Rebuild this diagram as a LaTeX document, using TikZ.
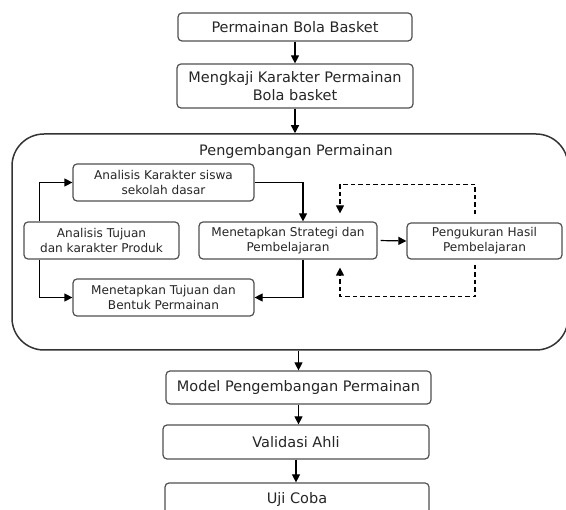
\documentclass[tikz,border=0pt]{standalone}
\usepackage{fontspec}
\setmainfont{DejaVu Sans}
\usetikzlibrary{arrows.meta}
\definecolor{edge}{HTML}{505050}
\definecolor{txt}{HTML}{262626}
\tikzset{
  box/.style={draw=edge, line width=1.2pt, rounded corners=4pt, fill=white, text=txt, align=center, inner sep=0pt},
  outerbox/.style={box, font=\fontsize{14.5}{18}\selectfont},
  innerbox/.style={box, font=\fontsize{12.1}{15}\selectfont},
  lowbox/.style={box, font=\fontsize{14.5}{18}\selectfont},
  arr/.style={draw=black, line width=1.2pt, -{Triangle[length=8pt,width=8pt]}},
  darr/.style={arr, dash pattern=on 4.5pt off 3pt},
}
\begin{document}
\begin{tikzpicture}[x=1pt,y=-1pt]
\useasboundingbox (0,0) rectangle (566,510);
\node[draw=black!80, line width=1.5pt, rounded corners=32pt, minimum width=556pt, minimum height=216pt] (big) at (290,242) {};
\node[text=txt, font=\fontsize{14.4}{16}\selectfont] (title) at (296,152) {Pengembangan Permainan};

\node[outerbox, minimum width=234pt, minimum height=28pt] (n1) at (295,27) {Permainan Bola Basket};
\node[outerbox, minimum width=236pt, minimum height=44pt] (n2) at (295,86) {Mengkaji Karakter Permainan\\Bola basket};

\node[innerbox, minimum width=181pt, minimum height=37pt] (A) at (163.5,182.5) {Analisis Karakter siswa\\sekolah dasar};
\node[innerbox, minimum width=155pt, minimum height=37pt] (T) at (101.5,240.5) {Analisis Tujuan\\dan karakter Produk};
\node[innerbox, minimum width=181pt, minimum height=37pt] (M) at (163.5,297.5) {Menetapkan Tujuan dan\\Bentuk Permainan};
\node[innerbox, minimum width=178pt, minimum height=37pt] (S) at (288,240.5) {Menetapkan Strategi dan\\Pembelajaran};
\node[innerbox, minimum width=155pt, minimum height=36pt] (P) at (484.5,241) {Pengukuran Hasil\\Pembelajaran};

\node[lowbox, minimum width=265pt, minimum height=33pt] (Mo) at (298.5,387.5) {Model Pengembangan Permainan};
\node[lowbox, minimum width=266pt, minimum height=34pt] (V) at (296,442) {Validasi Ahli};
\node[lowbox, minimum width=264pt, minimum height=34pt] (U) at (297,500) {Uji Coba};

\draw[arr] (n1.south) -- (n1.south |- n2.north);
\draw[arr] (n2.south) -- (n2.south |- big.north);
\draw[arr] (Mo.north |- big.south) -- (Mo.north);
\draw[arr] (Mo.south) -- (Mo.south |- V.north);
\draw[arr] (V.south) -- (V.south |- U.north);

\draw[arr] ([xshift=16pt]T.north west) |- (A.west);
\draw[arr] ([xshift=16pt]T.south west) |- (M.west);
\draw[arr] (A.east) -| ([xshift=15pt]S.north);
\draw[arr] ([xshift=15pt]S.south) |- (M.east);
\draw[arr, shorten <=3pt] (S.east) -- (P.west);
\draw[darr, shorten <=8pt, shorten >=8pt] ([xshift=-9.5pt]P.north) -- ++(0,-38) -| ([xshift=52pt]S.north);
\draw[darr, shorten <=5pt, shorten >=8pt] ([xshift=-9.5pt]P.south) -- ++(0,37) -| ([xshift=52pt]S.south);
\end{tikzpicture}
\end{document}
